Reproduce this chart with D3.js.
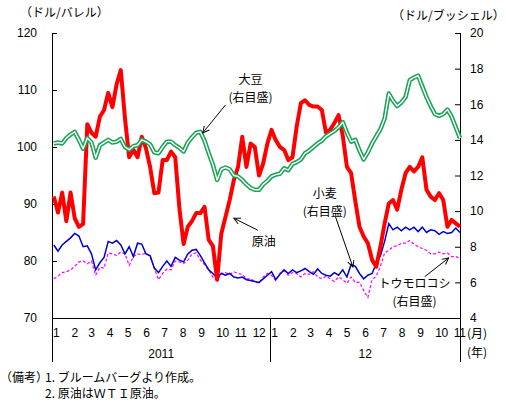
<!DOCTYPE html>
<html>
<head>
<meta charset="utf-8">
<script src="https://cdn.jsdelivr.net/npm/d3@7"></script>
<style>
  body { margin: 0; background: #fff; }
  text { font-family: "Liberation Sans", Arial, sans-serif; fill: #000; }
  .jp { font-family: "Noto Sans CJK JP", sans-serif; }
</style>
</head>
<body>
<div id="viz"></div>
<script>
// weekly closes, first week starting 2011-01-04
var weekStart = new Date(2011, 0, 4);

// crude oil (WTI), $/barrel, left axis
var oil = [91.3, 88.5, 92, 87, 92, 87.5, 86, 86.5, 104, 102.5,
  101.8, 105.3, 106.5, 109.5, 107, 111, 113.5, 105, 98.2, 99.5,
  98.2, 101.8, 99.8, 96.5, 91.9, 92, 97.7, 97.7, 99.2, 98.2,
  89.2, 83, 86, 87, 88.4, 88.4, 89.5, 83.7, 82.6, 76.7,
  84.8, 87.7, 90.7, 94.2, 96.5, 101.8, 96.5, 100.6, 100, 95,
  97.1, 100.6, 103, 101.2, 100, 99.5, 97.7, 98.2, 103.6, 107.7,
  108.2, 107.4, 107.1, 107.1, 106.5, 102.5, 103, 104.2, 105.6, 102,
  96.5, 95.4, 90.5, 86, 84.3, 83.1, 80.2, 79, 82.5, 86.6,
  90.1, 90.7, 89, 92.5, 95.4, 96.5, 95.7, 96.5, 98.2, 92.5,
  91.3, 90.7, 91.9, 90.7, 86, 87.2, 86.6, 86];

// soybeans, $/bushel, right axis
var soy = [13.8, 13.85, 13.8, 14.1, 14.3, 14.45, 14.0, 13.5, 14.1, 13.85,
  13.0, 13.7, 13.85, 14.0, 13.85, 13.9, 14.05, 13.6, 13.45, 13.65,
  13.7, 14.0, 13.9, 13.75, 13.3, 13.25, 13.6, 13.9, 13.9, 13.7,
  13.55, 13.35, 13.85, 14.15, 14.4, 14.45, 13.95, 13.25, 12.6, 11.75,
  12.35, 12.45, 12.35, 12.0, 11.95, 11.75, 11.5, 11.3, 11.2, 11.2,
  11.5, 11.7, 11.95, 12.05, 12.1, 12.4, 12.3, 12.65, 12.75, 12.9,
  13.25, 13.4, 13.6, 13.8, 13.95, 14.2, 14.35, 14.5, 14.7, 15.0,
  14.4, 13.9, 14.0, 13.4, 12.9, 13.3, 13.8, 14.2, 14.6, 15.2,
  16.6, 16.2, 15.9, 16.1, 16.4, 17.35, 17.5, 17.6, 17.0, 16.4,
  15.9, 15.45, 15.35, 15.45, 15.7, 15.3, 14.7, 14.1];

// wheat, $/bushel, right axis
var wheat = [8.1, 7.75, 8.1, 8.3, 8.5, 8.75, 8.6, 8.0, 8.05, 7.6,
  6.7, 7.1, 7.4, 8.3, 8.2, 8.35, 8.1, 7.6, 8.0, 7.45,
  8.2, 8.15, 7.6, 7.5, 6.8, 6.55, 6.9, 7.2, 6.9, 7.4,
  7.25, 7.15, 7.6, 7.8, 7.85, 7.5, 7.1, 6.7, 6.5, 6.25,
  6.5, 6.4, 6.5, 6.3, 6.25, 6.3, 6.15, 6.1, 6.05, 6.0,
  6.2, 6.4, 6.6, 6.15, 6.45, 6.7, 6.5, 6.7, 6.55, 6.65,
  6.78, 6.6, 6.45, 6.75, 6.5, 6.4, 6.35, 6.55, 6.4, 6.7,
  6.3, 7.0, 6.9, 6.5, 6.2, 6.4, 6.5, 7.05, 7.5, 8.3,
  9.3, 8.95, 9.1, 8.9, 9.1, 8.95, 9.1, 8.85, 9.1, 8.8,
  8.95, 8.9, 8.7, 8.85, 8.75, 8.8, 9.05, 8.8];

// corn, $/bushel, right axis
var corn = [6.2, 6.35, 6.55, 6.6, 6.7, 6.9, 7.15, 7.2, 7.05, 7.2,
  6.4, 6.85, 6.8, 7.65, 7.6, 7.5, 7.7, 7.6, 6.95, 7.45,
  7.6, 7.55, 7.65, 7.45, 6.8, 6.15, 6.5, 6.75, 6.7, 7.2,
  7.15, 7.05, 7.25, 7.6, 7.65, 7.25, 7.0, 6.7, 6.3, 6.1,
  6.5, 6.55, 6.45, 6.6, 6.5, 6.45, 6.2, 6.2, 6.05, 5.95,
  6.3, 6.5, 6.4, 6.1, 6.5, 6.65, 6.4, 6.55, 6.5, 6.3,
  6.5, 6.45, 6.6, 6.3, 6.2, 6.35, 6.2, 6.05, 6.3, 6.15,
  5.95, 6.3, 6.0, 6.0, 5.55, 5.15, 6.15, 6.35, 6.9, 7.65,
  7.8, 8.0, 8.05, 8.2, 8.2, 8.35, 8.15, 8.0, 7.9, 7.8,
  7.6, 7.6, 7.7, 7.6, 7.65, 7.45, 7.45, 7.35];

var leftTicks = [70, 80, 90, 100, 110, 120];
var rightTicks = [4, 6, 8, 10, 12, 14, 16, 18, 20];
var yearLabels = ['2011', '12'];

var width = 506, height = 407;
var plotLeft = 52, plotRight = 460, plotTop = 33, plotBottom = 318, footY = 362;

var svg = d3.select('#viz').append('svg')
    .attr('width', width)
    .attr('height', height);

var x = d3.scaleTime()
    .domain([new Date(2011, 0, 1), new Date(2012, 10, 13)])
    .range([plotLeft, plotRight]);
var yL = d3.scaleLinear().domain([70, 120]).range([plotBottom, plotTop]);
var yR = d3.scaleLinear().domain([4, 20]).range([plotBottom, plotTop]);

var dates = oil.map(function(d, i) { return d3.timeDay.offset(weekStart, 7 * i); });

// arrow marker
svg.append('defs').append('marker')
    .attr('id', 'arr')
    .attr('viewBox', '0 0 10 10')
    .attr('refX', 9).attr('refY', 5)
    .attr('markerWidth', 8).attr('markerHeight', 8)
    .attr('orient', 'auto')
  .append('path')
    .attr('d', 'M1,1 L9,5 L1,9')
    .attr('fill', 'none')
    .attr('stroke', '#000')
    .attr('stroke-width', 1.2);

// left axis
var gl = svg.append('g')
    .attr('transform', 'translate(' + plotLeft + ',0)')
    .call(d3.axisLeft(yL).tickValues(leftTicks).tickSize(-5).tickPadding(15));
gl.select('.domain').remove();
gl.selectAll('text').style('font-size', '12px');
gl.selectAll('line').attr('stroke', '#000');

// right axis
var gr = svg.append('g')
    .attr('transform', 'translate(' + plotRight + ',0)')
    .call(d3.axisRight(yR).tickValues(rightTicks).tickSize(-5).tickPadding(10));
gr.select('.domain').remove();
gr.selectAll('text').style('font-size', '12px');
gr.selectAll('line').attr('stroke', '#000');

// frame lines
var frame = svg.append('g').attr('stroke', '#000').attr('stroke-width', 1).attr('shape-rendering', 'crispEdges');
frame.append('line').attr('x1', plotLeft).attr('x2', plotLeft).attr('y1', plotTop).attr('y2', footY);
frame.append('line').attr('x1', plotRight).attr('x2', plotRight).attr('y1', plotTop).attr('y2', footY);
frame.append('line').attr('x1', plotLeft).attr('x2', plotRight).attr('y1', plotBottom).attr('y2', plotBottom);
frame.append('line')
    .attr('x1', x(new Date(2012, 0, 1))).attr('x2', x(new Date(2012, 0, 1)))
    .attr('y1', plotBottom).attr('y2', footY);

// month labels
var months = d3.timeMonth.range(new Date(2011, 0, 1), new Date(2012, 10, 2));
svg.append('g').selectAll('text')
    .data(months)
    .enter().append('text')
    .attr('x', function(d) { return x(d) + 1; })
    .attr('y', 337)
    .style('font-size', '12px')
    .style('letter-spacing', '-0.4px')
    .text(function(d) { return d.getMonth() + 1; });

// year labels
var yearSpans = [[new Date(2011, 0, 1), new Date(2012, 0, 1)], [new Date(2012, 0, 1), new Date(2012, 10, 13)]];
svg.append('g').selectAll('text')
    .data(yearSpans)
    .enter().append('text')
    .attr('x', function(d) { return (x(d[0]) + x(d[1])) / 2; })
    .attr('y', 358)
    .attr('text-anchor', 'middle')
    .style('font-size', '12px')
    .text(function(d, i) { return yearLabels[i]; });

svg.append('text').attr('class', 'jp').attr('x', 467).attr('y', 338).style('font-size', '12px').text('(月)');
svg.append('text').attr('class', 'jp').attr('x', 467).attr('y', 357).style('font-size', '12px').text('(年)');

// axis units
svg.append('text').attr('class', 'jp').attr('x', 20).attr('y', 17).style('font-size', '12px').text('（ドル/バレル）');
svg.append('text').attr('class', 'jp').attr('x', 392).attr('y', 20).style('font-size', '12px').text('（ドル/ブッシェル）');

// lines
function lineFor(scale) {
  return d3.line()
    .x(function(d, i) { return x(dates[i]); })
    .y(function(d) { return scale(d); });
}

svg.append('path').datum(corn)
    .attr('d', lineFor(yR))
    .attr('fill', 'none')
    .attr('stroke', '#ff00ff')
    .attr('stroke-width', 1.2)
    .attr('stroke-dasharray', '3,2');

svg.append('path').datum(wheat)
    .attr('d', lineFor(yR))
    .attr('fill', 'none')
    .attr('stroke', '#0000cc')
    .attr('stroke-width', 1.5);

svg.append('path').datum(oil)
    .attr('d', lineFor(yL))
    .attr('fill', 'none')
    .attr('stroke', '#ff0000')
    .attr('stroke-width', 4)
    .attr('stroke-linejoin', 'round');

// soybeans: double line
svg.append('path').datum(soy)
    .attr('d', lineFor(yR))
    .attr('fill', 'none')
    .attr('stroke', '#1aa256')
    .attr('stroke-width', 4.5)
    .attr('stroke-linejoin', 'round');
svg.append('path').datum(soy)
    .attr('d', lineFor(yR))
    .attr('fill', 'none')
    .attr('stroke', '#fff')
    .attr('stroke-width', 1.4)
    .attr('stroke-linejoin', 'round');

// annotations (anchored in data coordinates)
var notes = [
  {text: ['大豆', '(右目盛)'], at: [new Date(2011, 10, 29), 17.14], scale: yR,
   from: [new Date(2011, 9, 18), 15.96], to: [new Date(2011, 8, 10), 14.39]},
  {text: ['原油'], at: [new Date(2011, 11, 21), 82.6], scale: yL,
   from: [new Date(2011, 11, 11), 85.4], to: [new Date(2011, 10, 1), 87.5]},
  {text: ['小麦', '(右目盛)'], at: [new Date(2012, 3, 1), 10.74], scale: yR,
   from: [new Date(2012, 3, 19), 9.67], to: [new Date(2012, 4, 18), 6.86]},
  {text: ['トウモロコシ', '(右目盛)'], at: [new Date(2012, 7, 29), 5.68], scale: yR,
   from: [new Date(2012, 8, 15), 6.32], to: [new Date(2012, 9, 25), 7.37]}
];

notes.forEach(function(n) {
  n.text.forEach(function(t, i) {
    svg.append('text')
      .attr('class', 'jp')
      .attr('x', x(n.at[0]))
      .attr('y', n.scale(n.at[1]) + i * 18)
      .attr('text-anchor', 'middle')
      .style('font-size', '12px')
      .text(t);
  });
  svg.append('line')
    .attr('x1', x(n.from[0])).attr('y1', n.scale(n.from[1]))
    .attr('x2', x(n.to[0])).attr('y2', n.scale(n.to[1]))
    .attr('stroke', '#000')
    .attr('stroke-width', 1)
    .attr('marker-end', 'url(#arr)');
});

// footnotes
svg.append('text').attr('class', 'jp').attr('x', 0).attr('y', 382).style('font-size', '12px').text('（備考）');
svg.append('text').attr('class', 'jp').attr('x', 45).attr('y', 382).style('font-size', '12px').text('1. ブルームバーグより作成。');
svg.append('text').attr('class', 'jp').attr('x', 45).attr('y', 398).style('font-size', '12px').text('2. 原油はＷＴＩ原油。');
</script>
</body>
</html>
